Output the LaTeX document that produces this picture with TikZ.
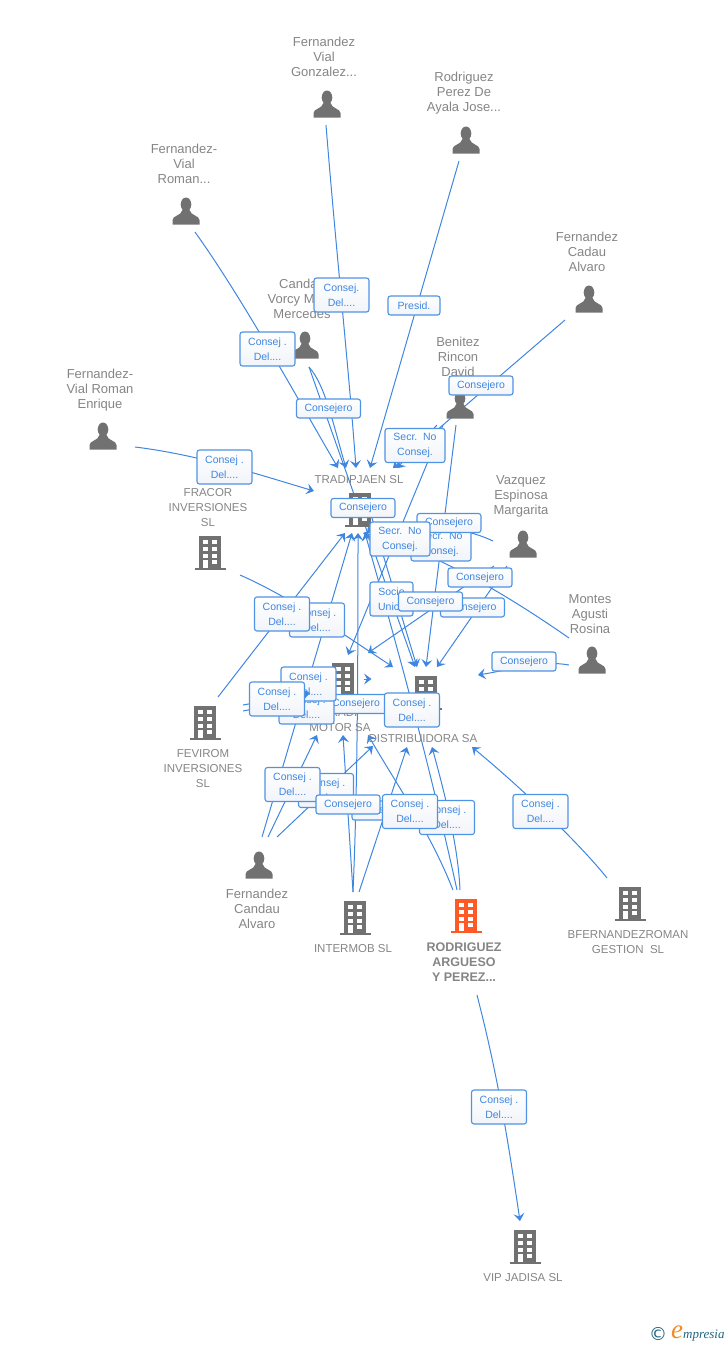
\documentclass[tikz,border=0pt]{standalone}
\usepackage{fontspec}
\usepackage{amsmath}
\setmainfont{Liberation Sans}
\newfontfamily\logofont{Liberation Serif}
\newfontfamily\symbfont{DejaVu Sans}
\usetikzlibrary{arrows.meta}
\definecolor{linkblue}{HTML}{3F86E0}
\definecolor{edgeblue}{HTML}{4F93E4}
\definecolor{rolefill}{HTML}{F1F4F9}
\definecolor{labelgray}{HTML}{858585}
\definecolor{icongray}{HTML}{717171}
\definecolor{iconorange}{HTML}{FF5A26}
\definecolor{logoteal}{HTML}{1F6480}
\definecolor{logoorange}{HTML}{F08A24}
\tikzset{
  flow/.style={-{Stealth[length=7.5pt,width=11pt,inset=3pt]},linkblue,line width=1pt},
  stub/.style={linkblue,line width=1pt},
  personname/.style={align=center,text=labelgray,font=\fontsize{13}{15}\selectfont,inner sep=0,yshift=-0.8pt},
  firmname/.style={align=center,text=labelgray,font=\fontsize{11.5}{15}\selectfont,inner sep=0,yshift=-0.8pt},
  rolebox/.style={draw=edgeblue,line width=1.1pt,rounded corners=2.5pt,top color=white,bottom color=rolefill,align=center,text=linkblue,font=\fontsize{10.5}{15}\selectfont,inner sep=0},
  delbox/.style={rolebox,minimum width=55pt,minimum height=34pt},
  secbox/.style={rolebox,minimum width=60pt,minimum height=34pt},
  conbox/.style={rolebox,minimum width=64pt,minimum height=19pt},
  pics/person/.style={code={
    \fill[icongray] (0,-6.5) ellipse [x radius=5.3,y radius=7];
    \fill[icongray] (-13.5,13.5) -- (-13.5,9) .. controls (-13.5,4.5) and (-5,5) .. (-3.5,-1) -- (3.5,-1) .. controls (5,5) and (13.5,4.5) .. (13.5,9) -- (13.5,13.5) -- cycle;
  }},
  pics/building/.style={code={
    \fill[#1] (-11,-17) rectangle (11,14.5);
    \fill[#1] (-15.5,14.5) rectangle (15.5,17);
    \foreach \wy in {-13,-6.5,0.5,7} {
      \fill[white] (-7,\wy) rectangle (-2,\wy+4.3);
      \fill[white] (2,\wy) rectangle (7,\wy+4.3);
    }
    \fill[white] (-7,10) rectangle (-2,14.5);
  }},
}
\begin{document}
\begin{tikzpicture}[x=1pt,y=-1pt]
        \useasboundingbox (0,0) rectangle (728,1345);

        \coordinate (romanOut) at (195,232);
        \coordinate (gonzalezOut) at (326,125);
        \coordinate (ayalaOut) at (459,161);
        \coordinate (cadauOut) at (565,320);
        \coordinate (vorcyOut) at (309,367);
        \coordinate (benitezOutA) at (437,425);
        \coordinate (benitezOutB) at (443,425);
        \coordinate (benitezOutC) at (456,425);
        \coordinate (enriqueOut) at (135,447);
        \coordinate (tradipOut) at (368,505);
        \coordinate (fracorOut) at (240,575);
        \coordinate (margaritaOutA) at (493,541);
        \coordinate (margaritaOutB) at (494,566);
        \coordinate (margaritaOutC) at (507,566);
        \coordinate (rosinaOutA) at (569,638);
        \coordinate (rosinaOutB) at (569,665);
        \coordinate (fevOutA) at (218,697);
        \coordinate (fevOutB) at (243,705);
        \coordinate (fevOutC) at (243,711);
        \coordinate (fevHidden) at (290,702);
        \coordinate (candauOutA) at (262,837);
        \coordinate (candauOutB) at (268,837);
        \coordinate (candauOutC) at (277,837);
        \coordinate (intermobOutA) at (353,892);
        \coordinate (intermobOutB) at (359,892);
        \coordinate (rodOutA) at (453,890);
        \coordinate (rodOutB) at (457,890);
        \coordinate (rodOutC) at (460,890);
        \coordinate (rodOutD) at (477,995);
        \coordinate (bfernandezOut) at (607,878);

        \coordinate (tradipTopA) at (338,468);
        \coordinate (tradipTopB) at (346,468);
        \coordinate (tradipTopC) at (356,468);
        \coordinate (tradipTopD) at (370,468);
        \coordinate (tradipTopE) at (393,468);
        \coordinate (tradipTopF) at (397,468);
        \coordinate (tradipLeft) at (314,491);
        \coordinate (tradipLowA) at (345,533);
        \coordinate (tradipLowB) at (352,533);
        \coordinate (tradipLowC) at (358,533);
        \coordinate (tradipLowD) at (363,533);
        \coordinate (tradipLowE) at (365,533);
        \coordinate (tradipLowF) at (367,533);
        \coordinate (motorTopA) at (348,655);
        \coordinate (motorTopB) at (368,653);
        \coordinate (motorTopC) at (393,667);
        \coordinate (motorSideA) at (310,693);
        \coordinate (motorSideB) at (371.5,679);
        \coordinate (motorSideOut) at (364,679);
        \coordinate (motorLowA) at (317,735);
        \coordinate (motorLowB) at (343,735);
        \coordinate (motorLowC) at (368,735);
        \coordinate (motorLowD) at (373,746);
        \coordinate (distTopA) at (415,667);
        \coordinate (distTopB) at (417,667);
        \coordinate (distTopC) at (426,667);
        \coordinate (distTopD) at (437,667);
        \coordinate (distRight) at (478,675);
        \coordinate (distLowA) at (407,747);
        \coordinate (distLowB) at (432,747);
        \coordinate (distLowC) at (472,747);
        \coordinate (vipTop) at (520,1221);

        \draw[flow] (romanOut) .. controls (240,295) and (290,385) .. (tradipTopA);
        \draw[flow] (gonzalezOut) .. controls (336,250) and (348,360) .. (tradipTopC);
        \path[flow] (ayalaOut) edge (tradipTopD);
        \path[flow] (cadauOut) edge (tradipTopE);
        \draw[flow] (vorcyOut) .. controls (325,385) and (332,420) .. (tradipTopB);
        \path[flow] (vorcyOut) edge (distTopA);
        \path[flow] (tradipOut) edge (distTopB);
        \path[flow] (benitezOutA) edge (tradipTopF);
        \path[flow] (benitezOutB) edge (motorTopA);
        \path[flow] (benitezOutC) edge (distTopC);
        \draw[flow] (enriqueOut) .. controls (200,455) and (260,475) .. (tradipLeft);
        \draw[flow] (fracorOut) .. controls (290,597) and (340,632) .. (motorTopC);
        \draw[flow] (margaritaOutA) .. controls (460,525) and (385,515) .. (tradipLowF);
        \path[flow] (margaritaOutB) edge (motorTopB);
        \path[flow] (margaritaOutC) edge (distTopD);
        \draw[flow] (rosinaOutA) .. controls (500,590) and (430,550) .. (tradipLowD);
        \draw[flow] (rosinaOutB) .. controls (540,660) and (520,668) .. (distRight);
        \path[flow] (fevOutA) edge (tradipLowA);
        \path[stub] (fevOutC) edge (fevHidden);
        \path[flow] (motorSideOut) edge (motorSideB);
        \path[flow] (candauOutA) edge (tradipLowB);
        \path[flow] (candauOutB) edge (motorLowA);
        \path[flow] (candauOutC) edge (motorLowD);
        \draw[flow] (intermobOutA) .. controls (357,800) and (358,700) .. (tradipLowC);
        \path[flow] (intermobOutA) edge (motorLowB);
        \path[flow] (intermobOutB) edge (distLowA);
        \draw[flow] (rodOutA) .. controls (430,832) and (400,790) .. (motorLowC);
        \draw[flow] (rodOutB) .. controls (425,745) and (395,640) .. (tradipLowE);
        \draw[flow] (rodOutC) .. controls (458,845) and (445,795) .. (distLowB);
        \draw[flow] (bfernandezOut) .. controls (585,850) and (530,795) .. (distLowC);
        \draw[flow] (rodOutD) .. controls (495,1065) and (505,1120) .. (vipTop);

        \pic at (327,104) {person};
        \pic at (466,140) {person};
        \pic at (186,211) {person};
        \pic at (589,299) {person};
        \pic at (305,345) {person};
        \pic at (460,405) {person};
        \pic at (103,436) {person};
        \pic at (523,544) {person};
        \pic at (592,660) {person};
        \pic at (259,865) {person};
        \pic at (360,510) {building=icongray};
        \pic at (210,553) {building=icongray};
        \pic at (205,723) {building=icongray};
        \pic at (343,680) {building=icongray};
        \pic at (426,693) {building=icongray};
        \pic at (355,918) {building=icongray};
        \pic at (466,916) {building=iconorange};
        \pic at (630,904) {building=icongray};
        \pic at (525,1247) {building=icongray};

        \node[personname] (gonzalez) at (324,56) {Fernandez\\Vial\\Gonzalez...};
        \node[personname] (ayala) at (464,92) {Rodriguez\\Perez De\\Ayala Jose...};
        \node[personname] (roman) at (184,163) {Fernandez-\\Vial\\Roman...};
        \node[personname] (cadau) at (587,251) {Fernandez\\Cadau\\Alvaro};
        \node[personname] (vorcy) at (302,298) {Candau\\Vorcy Maria\\Mercedes};
        \node[personname] (benitez) at (458,356) {Benitez\\Rincon\\David};
        \node[personname] (enrique) at (100,389) {Fernandez-\\Vial Roman\\Enrique};
        \node[personname] (margarita) at (521,496) {Vazquez\\Espinosa\\Margarita};
        \node[personname] (rosina) at (590,613) {Montes\\Agusti\\Rosina};
        \node[personname] (candau) at (257,908) {Fernandez\\Candau\\Alvaro};
        \node[firmname] (tradip) at (359,479) {TRADIPJAEN SL};
        \node[firmname] (fracor) at (208,507) {FRACOR\\INVERSIONES\\SL};
        \node[firmname] (fevirom) at (203,768) {FEVIROM\\INVERSIONES\\SL};
        \node[firmname] (motor) at (340,719) {TRADI\\MOTOR SA};
        \node[firmname] (dist) at (423,738) {DISTRIBUIDORA SA};
        \node[firmname] (intermob) at (353,948) {INTERMOB SL};
        \node[firmname,font=\fontsize{12.5}{15}\selectfont\bfseries] (rodriguez) at (464,961) {RODRIGUEZ\\ARGUESO\\Y PEREZ...};
        \node[firmname] (bfernandez) at (628,941) {BFERNANDEZROMAN\\GESTION\ \ SL};
        \node[firmname] (vip) at (523,1277) {VIP JADISA SL};

        \node[delbox] (roleGonzalez) at (341.5,295) {Consej.\\Del....};
        \node[conbox,minimum width=52pt] (roleAyala) at (414,305.5) {Presid.};
        \node[delbox] (roleRoman) at (267.5,349) {Consej .\\Del....};
        \node[conbox] (roleVorcy) at (328.5,408.5) {Consejero};
        \node[conbox] (roleCadau) at (481,385.5) {Consejero};
        \node[secbox] (roleBenitezA) at (415,445.5) {Secr.\ \ No\\Consej.};
        \node[delbox] (roleEnrique) at (224.5,467) {Consej .\\Del....};
        \node[secbox] (roleRosina) at (441,544) {Secr.\ \ No\\Consej.};
        \node[conbox] (roleMargaritaA) at (449,523) {Consejero};
        \node[conbox] (roleCandauC) at (363,508) {Consejero};
        \node[secbox] (roleBenitezB) at (400,539) {Secr.\ \ No\\Consej.};
        \node[conbox] (roleMargaritaB) at (480,577.5) {Consejero};
        \node[conbox] (roleMargaritaC) at (472.5,607.5) {Consejero};
        \node[rolebox,minimum width=43pt,minimum height=34pt] (roleSocio) at (391.5,599) {Socio\\Unico};
        \node[conbox] (roleBenitezC) at (430.5,601.5) {Consejero};
        \node[delbox] (roleFracor) at (317,620) {Consej .\\Del....};
        \node[delbox] (roleFevA) at (282,614) {Consej .\\Del....};
        \node[conbox] (roleRosinaB) at (524,661.5) {Consejero};
        \node[conbox] (roleMotor) at (356,704) {Consejero};
        \node[delbox] (roleFevC) at (306.5,707) {Consej .\\Del....};
        \node[delbox] (roleCandauA) at (308.5,684) {Consej .\\Del....};
        \path[flow] (fevOutB) edge (motorSideA);
        \node[delbox] (roleFevB) at (277,699) {Consej .\\Del....};
        \node[delbox] (roleVorcyB) at (412,710) {Consej .\\Del....};
        \node[delbox] (roleCandauD) at (326,790.5) {Consej .\\Del....};
        \node[delbox] (roleCandauB) at (292.5,784.5) {Consej .\\Del....};
        \node[conbox] (roleIntermobB) at (384,810.5) {Consejero};
        \node[conbox] (roleIntermobA) at (348,804.5) {Consejero};
        \node[delbox] (roleRodC) at (447,817.5) {Consej .\\Del....};
        \node[delbox] (roleRodA) at (410,811.5) {Consej .\\Del....};
        \node[delbox] (roleBfernandez) at (540.5,811.5) {Consej .\\Del....};
        \node[delbox] (roleVip) at (499,1107) {Consej .\\Del....};

        \node[text=logoteal,font=\symbfont\fontsize{18}{18}\selectfont,inner sep=0] (logoMark) at (658,1334) {\symbol{"00A9}};
        \node[anchor=base west,inner sep=0,font=\logofont\itshape\fontsize{13}{13}\selectfont] (logoName) at (671,1338) {\textcolor{logoorange}{\fontsize{27}{27}\selectfont e}\textcolor{logoteal}{mpresia}};

    \end{tikzpicture}
\end{document}
